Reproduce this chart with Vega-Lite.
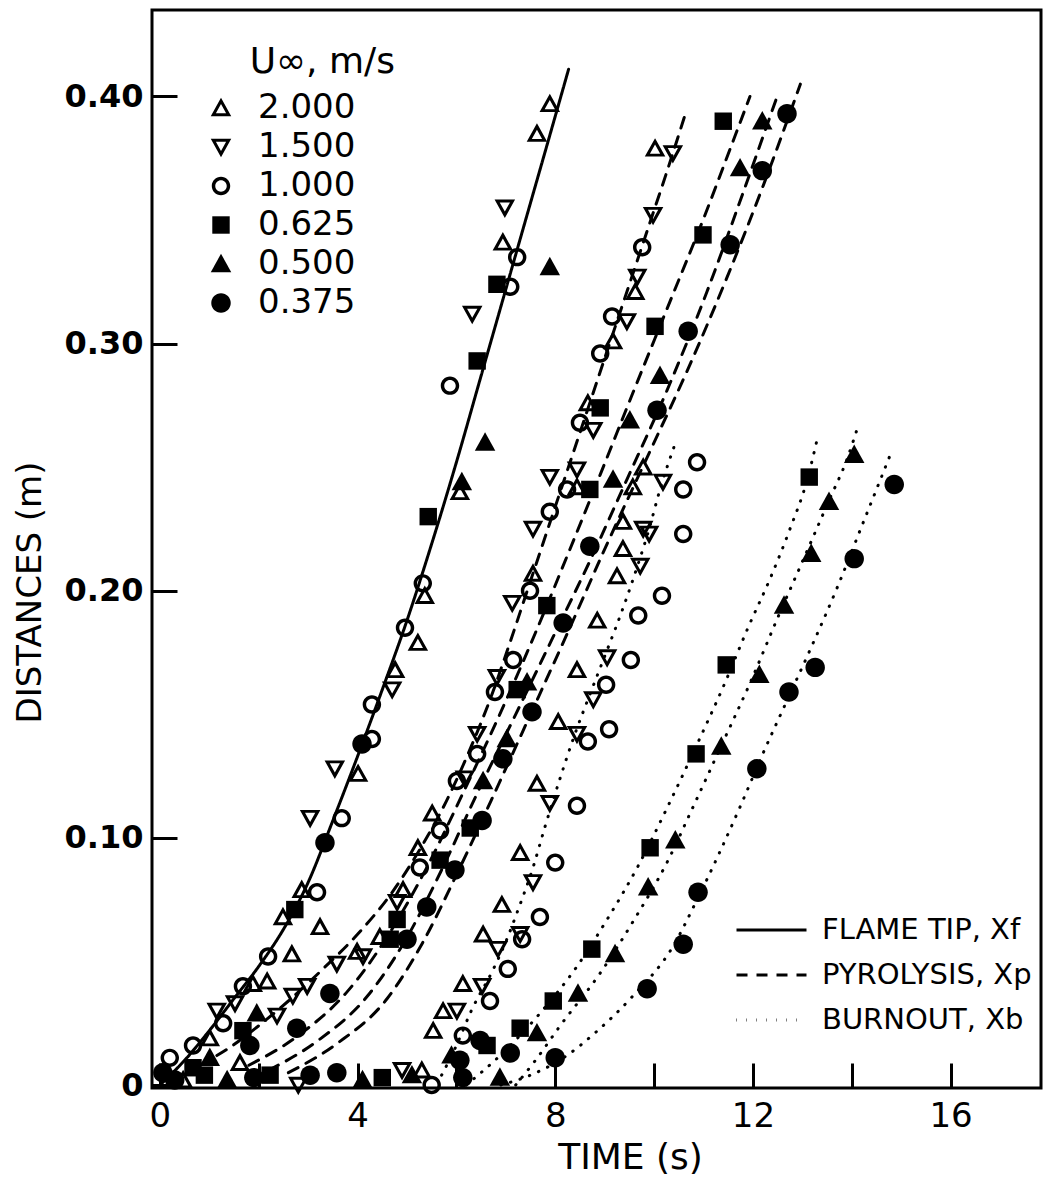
{
"$schema": "https://vega.github.io/schema/vega-lite/v6.json",
"width": 889, "height": 1078,
"autosize": {"type": "none"},
"padding": {"left": 152, "top": 10, "right": 3, "bottom": 97},
"background": "white",
"config": {
  "view": {"stroke": "black", "strokeWidth": 3},
  "font": "DejaVu Sans",
  "axis": {"grid": false, "domain": false, "tickColor": "black", "tickWidth": 3, "tickSize": -25, "labelColor": "black", "titleColor": "black"}
},
"datasets": {
"curves": [
{"curve":"S","kind":"FLAME TIP, Xf","t":0.0,"d":0.0},{"curve":"S","kind":"FLAME TIP, Xf","t":0.5,"d":0.010},{"curve":"S","kind":"FLAME TIP, Xf","t":1.0,"d":0.022},{"curve":"S","kind":"FLAME TIP, Xf","t":1.5,"d":0.035},{"curve":"S","kind":"FLAME TIP, Xf","t":2.0,"d":0.048},{"curve":"S","kind":"FLAME TIP, Xf","t":2.5,"d":0.063},{"curve":"S","kind":"FLAME TIP, Xf","t":3.0,"d":0.082},{"curve":"S","kind":"FLAME TIP, Xf","t":3.5,"d":0.107},{"curve":"S","kind":"FLAME TIP, Xf","t":4.0,"d":0.133},{"curve":"S","kind":"FLAME TIP, Xf","t":4.5,"d":0.160},{"curve":"S","kind":"FLAME TIP, Xf","t":5.0,"d":0.188},{"curve":"S","kind":"FLAME TIP, Xf","t":5.5,"d":0.219},{"curve":"S","kind":"FLAME TIP, Xf","t":6.0,"d":0.252},{"curve":"S","kind":"FLAME TIP, Xf","t":6.5,"d":0.287},{"curve":"S","kind":"FLAME TIP, Xf","t":7.0,"d":0.322},{"curve":"S","kind":"FLAME TIP, Xf","t":7.5,"d":0.357},{"curve":"S","kind":"FLAME TIP, Xf","t":8.0,"d":0.392},{"curve":"S","kind":"FLAME TIP, Xf","t":8.27,"d":0.411},
{"curve":"A","kind":"PYROLYSIS, Xp","t":0.8,"d":0.008},{"curve":"A","kind":"PYROLYSIS, Xp","t":1.4,"d":0.015},{"curve":"A","kind":"PYROLYSIS, Xp","t":2.0,"d":0.024},{"curve":"A","kind":"PYROLYSIS, Xp","t":2.6,"d":0.034},{"curve":"A","kind":"PYROLYSIS, Xp","t":3.3,"d":0.047},{"curve":"A","kind":"PYROLYSIS, Xp","t":4.0,"d":0.061},{"curve":"A","kind":"PYROLYSIS, Xp","t":4.7,"d":0.078},{"curve":"A","kind":"PYROLYSIS, Xp","t":5.25,"d":0.095},{"curve":"A","kind":"PYROLYSIS, Xp","t":5.8,"d":0.115},{"curve":"A","kind":"PYROLYSIS, Xp","t":6.3,"d":0.137},{"curve":"A","kind":"PYROLYSIS, Xp","t":6.7,"d":0.157},{"curve":"A","kind":"PYROLYSIS, Xp","t":7.1,"d":0.180},{"curve":"A","kind":"PYROLYSIS, Xp","t":7.5,"d":0.204},{"curve":"A","kind":"PYROLYSIS, Xp","t":7.9,"d":0.228},{"curve":"A","kind":"PYROLYSIS, Xp","t":8.3,"d":0.252},{"curve":"A","kind":"PYROLYSIS, Xp","t":8.7,"d":0.276},{"curve":"A","kind":"PYROLYSIS, Xp","t":9.1,"d":0.300},{"curve":"A","kind":"PYROLYSIS, Xp","t":9.5,"d":0.324},{"curve":"A","kind":"PYROLYSIS, Xp","t":9.9,"d":0.348},{"curve":"A","kind":"PYROLYSIS, Xp","t":10.25,"d":0.369},{"curve":"A","kind":"PYROLYSIS, Xp","t":10.65,"d":0.394},
{"curve":"B","kind":"PYROLYSIS, Xp","t":1.8,"d":0.008},{"curve":"B","kind":"PYROLYSIS, Xp","t":2.8,"d":0.020},{"curve":"B","kind":"PYROLYSIS, Xp","t":3.8,"d":0.038},{"curve":"B","kind":"PYROLYSIS, Xp","t":4.6,"d":0.060},{"curve":"B","kind":"PYROLYSIS, Xp","t":5.4,"d":0.088},{"curve":"B","kind":"PYROLYSIS, Xp","t":6.13,"d":0.118},{"curve":"B","kind":"PYROLYSIS, Xp","t":6.9,"d":0.151},{"curve":"B","kind":"PYROLYSIS, Xp","t":7.6,"d":0.183},{"curve":"B","kind":"PYROLYSIS, Xp","t":8.24,"d":0.214},{"curve":"B","kind":"PYROLYSIS, Xp","t":8.91,"d":0.247},{"curve":"B","kind":"PYROLYSIS, Xp","t":9.57,"d":0.280},{"curve":"B","kind":"PYROLYSIS, Xp","t":10.26,"d":0.314},{"curve":"B","kind":"PYROLYSIS, Xp","t":10.99,"d":0.350},{"curve":"B","kind":"PYROLYSIS, Xp","t":11.6,"d":0.382},{"curve":"B","kind":"PYROLYSIS, Xp","t":11.94,"d":0.400},
{"curve":"C","kind":"PYROLYSIS, Xp","t":2.2,"d":0.006},{"curve":"C","kind":"PYROLYSIS, Xp","t":3.2,"d":0.018},{"curve":"C","kind":"PYROLYSIS, Xp","t":4.2,"d":0.036},{"curve":"C","kind":"PYROLYSIS, Xp","t":4.95,"d":0.058},{"curve":"C","kind":"PYROLYSIS, Xp","t":5.7,"d":0.087},{"curve":"C","kind":"PYROLYSIS, Xp","t":6.42,"d":0.118},{"curve":"C","kind":"PYROLYSIS, Xp","t":7.2,"d":0.150},{"curve":"C","kind":"PYROLYSIS, Xp","t":7.95,"d":0.181},{"curve":"C","kind":"PYROLYSIS, Xp","t":8.7,"d":0.212},{"curve":"C","kind":"PYROLYSIS, Xp","t":9.45,"d":0.245},{"curve":"C","kind":"PYROLYSIS, Xp","t":10.26,"d":0.281},{"curve":"C","kind":"PYROLYSIS, Xp","t":11.07,"d":0.321},{"curve":"C","kind":"PYROLYSIS, Xp","t":11.8,"d":0.361},{"curve":"C","kind":"PYROLYSIS, Xp","t":12.49,"d":0.400},
{"curve":"D","kind":"PYROLYSIS, Xp","t":2.6,"d":0.005},{"curve":"D","kind":"PYROLYSIS, Xp","t":3.6,"d":0.017},{"curve":"D","kind":"PYROLYSIS, Xp","t":4.6,"d":0.035},{"curve":"D","kind":"PYROLYSIS, Xp","t":5.3,"d":0.057},{"curve":"D","kind":"PYROLYSIS, Xp","t":6.0,"d":0.085},{"curve":"D","kind":"PYROLYSIS, Xp","t":6.7,"d":0.115},{"curve":"D","kind":"PYROLYSIS, Xp","t":7.5,"d":0.150},{"curve":"D","kind":"PYROLYSIS, Xp","t":8.25,"d":0.183},{"curve":"D","kind":"PYROLYSIS, Xp","t":9.05,"d":0.219},{"curve":"D","kind":"PYROLYSIS, Xp","t":9.86,"d":0.254},{"curve":"D","kind":"PYROLYSIS, Xp","t":10.67,"d":0.289},{"curve":"D","kind":"PYROLYSIS, Xp","t":11.48,"d":0.327},{"curve":"D","kind":"PYROLYSIS, Xp","t":12.21,"d":0.364},{"curve":"D","kind":"PYROLYSIS, Xp","t":12.96,"d":0.405},
{"curve":"E","kind":"BURNOUT, Xb","t":5.7,"d":0.004},{"curve":"E","kind":"BURNOUT, Xb","t":6.0,"d":0.016},{"curve":"E","kind":"BURNOUT, Xb","t":6.3,"d":0.030},{"curve":"E","kind":"BURNOUT, Xb","t":6.75,"d":0.047},{"curve":"E","kind":"BURNOUT, Xb","t":7.0,"d":0.058},{"curve":"E","kind":"BURNOUT, Xb","t":7.25,"d":0.071},{"curve":"E","kind":"BURNOUT, Xb","t":7.55,"d":0.088},{"curve":"E","kind":"BURNOUT, Xb","t":7.8,"d":0.105},{"curve":"E","kind":"BURNOUT, Xb","t":8.08,"d":0.123},{"curve":"E","kind":"BURNOUT, Xb","t":8.38,"d":0.141},{"curve":"E","kind":"BURNOUT, Xb","t":8.7,"d":0.158},{"curve":"E","kind":"BURNOUT, Xb","t":9.05,"d":0.176},{"curve":"E","kind":"BURNOUT, Xb","t":9.39,"d":0.194},{"curve":"E","kind":"BURNOUT, Xb","t":9.68,"d":0.211},{"curve":"E","kind":"BURNOUT, Xb","t":9.9,"d":0.225},{"curve":"E","kind":"BURNOUT, Xb","t":10.12,"d":0.241},{"curve":"E","kind":"BURNOUT, Xb","t":10.4,"d":0.258},
{"curve":"F","kind":"BURNOUT, Xb","t":6.2,"d":0.0},{"curve":"F","kind":"BURNOUT, Xb","t":6.94,"d":0.013},{"curve":"F","kind":"BURNOUT, Xb","t":7.69,"d":0.029},{"curve":"F","kind":"BURNOUT, Xb","t":8.44,"d":0.048},{"curve":"F","kind":"BURNOUT, Xb","t":9.05,"d":0.067},{"curve":"F","kind":"BURNOUT, Xb","t":9.66,"d":0.088},{"curve":"F","kind":"BURNOUT, Xb","t":10.26,"d":0.112},{"curve":"F","kind":"BURNOUT, Xb","t":10.85,"d":0.137},{"curve":"F","kind":"BURNOUT, Xb","t":11.44,"d":0.163},{"curve":"F","kind":"BURNOUT, Xb","t":11.9,"d":0.185},{"curve":"F","kind":"BURNOUT, Xb","t":12.35,"d":0.205},{"curve":"F","kind":"BURNOUT, Xb","t":12.75,"d":0.225},{"curve":"F","kind":"BURNOUT, Xb","t":13.1,"d":0.245},{"curve":"F","kind":"BURNOUT, Xb","t":13.32,"d":0.263},
{"curve":"G","kind":"BURNOUT, Xb","t":7.2,"d":0.0},{"curve":"G","kind":"BURNOUT, Xb","t":7.6,"d":0.010},{"curve":"G","kind":"BURNOUT, Xb","t":8.1,"d":0.024},{"curve":"G","kind":"BURNOUT, Xb","t":8.9,"d":0.045},{"curve":"G","kind":"BURNOUT, Xb","t":9.57,"d":0.066},{"curve":"G","kind":"BURNOUT, Xb","t":10.26,"d":0.090},{"curve":"G","kind":"BURNOUT, Xb","t":10.8,"d":0.113},{"curve":"G","kind":"BURNOUT, Xb","t":11.4,"d":0.139},{"curve":"G","kind":"BURNOUT, Xb","t":11.95,"d":0.163},{"curve":"G","kind":"BURNOUT, Xb","t":12.5,"d":0.189},{"curve":"G","kind":"BURNOUT, Xb","t":13.05,"d":0.214},{"curve":"G","kind":"BURNOUT, Xb","t":13.55,"d":0.237},{"curve":"G","kind":"BURNOUT, Xb","t":13.9,"d":0.253},{"curve":"G","kind":"BURNOUT, Xb","t":14.15,"d":0.268},
{"curve":"H","kind":"BURNOUT, Xb","t":6.9,"d":0.0},{"curve":"H","kind":"BURNOUT, Xb","t":7.5,"d":0.004},{"curve":"H","kind":"BURNOUT, Xb","t":8.24,"d":0.012},{"curve":"H","kind":"BURNOUT, Xb","t":8.8,"d":0.021},{"curve":"H","kind":"BURNOUT, Xb","t":9.57,"d":0.036},{"curve":"H","kind":"BURNOUT, Xb","t":10.38,"d":0.056},{"curve":"H","kind":"BURNOUT, Xb","t":10.87,"d":0.075},{"curve":"H","kind":"BURNOUT, Xb","t":11.3,"d":0.093},{"curve":"H","kind":"BURNOUT, Xb","t":11.75,"d":0.113},{"curve":"H","kind":"BURNOUT, Xb","t":12.2,"d":0.134},{"curve":"H","kind":"BURNOUT, Xb","t":12.7,"d":0.156},{"curve":"H","kind":"BURNOUT, Xb","t":13.2,"d":0.178},{"curve":"H","kind":"BURNOUT, Xb","t":13.7,"d":0.201},{"curve":"H","kind":"BURNOUT, Xb","t":14.2,"d":0.226},{"curve":"H","kind":"BURNOUT, Xb","t":14.8,"d":0.256}
],
"points": [
{"U":"2.000","t":7.89,"d":0.397},{"U":"2.000","t":7.63,"d":0.385},{"U":"2.000","t":6.94,"d":0.341},{"U":"2.000","t":6.07,"d":0.240},{"U":"2.000","t":5.36,"d":0.198},{"U":"2.000","t":5.22,"d":0.179},{"U":"2.000","t":4.76,"d":0.168},{"U":"2.000","t":4.01,"d":0.126},{"U":"2.000","t":2.87,"d":0.079},{"U":"2.000","t":2.49,"d":0.068},{"U":"2.000","t":3.24,"d":0.064},{"U":"2.000","t":2.67,"d":0.053},{"U":"2.000","t":1.88,"d":0.041},{"U":"2.000","t":2.17,"d":0.042},{"U":"2.000","t":1.01,"d":0.019},{"U":"2.000","t":0.47,"d":0.002},
{"U":"2.000","t":10.02,"d":0.379},{"U":"2.000","t":9.62,"d":0.321},{"U":"2.000","t":9.17,"d":0.301},{"U":"2.000","t":8.66,"d":0.276},{"U":"2.000","t":8.44,"d":0.242},{"U":"2.000","t":7.55,"d":0.207},{"U":"2.000","t":5.51,"d":0.110},{"U":"2.000","t":5.22,"d":0.096},{"U":"2.000","t":4.92,"d":0.079},{"U":"2.000","t":4.45,"d":0.060},{"U":"2.000","t":3.99,"d":0.054},{"U":"2.000","t":1.62,"d":0.009},
{"U":"2.000","t":9.78,"d":0.250},{"U":"2.000","t":9.57,"d":0.242},{"U":"2.000","t":9.37,"d":0.228},{"U":"2.000","t":9.37,"d":0.217},{"U":"2.000","t":9.25,"d":0.206},{"U":"2.000","t":8.85,"d":0.188},{"U":"2.000","t":8.44,"d":0.168},{"U":"2.000","t":8.06,"d":0.147},{"U":"2.000","t":7.63,"d":0.122},{"U":"2.000","t":7.29,"d":0.094},{"U":"2.000","t":6.92,"d":0.073},{"U":"2.000","t":6.54,"d":0.061},{"U":"2.000","t":6.13,"d":0.041},{"U":"2.000","t":5.73,"d":0.030},{"U":"2.000","t":5.53,"d":0.022},{"U":"2.000","t":5.3,"d":0.006},
{"U":"1.500","t":6.98,"d":0.355},{"U":"1.500","t":6.32,"d":0.312},{"U":"1.500","t":4.70,"d":0.160},{"U":"1.500","t":3.54,"d":0.128},{"U":"1.500","t":3.04,"d":0.108},{"U":"1.500","t":1.52,"d":0.033},
{"U":"1.500","t":10.38,"d":0.377},{"U":"1.500","t":9.98,"d":0.352},{"U":"1.500","t":9.66,"d":0.327},{"U":"1.500","t":9.45,"d":0.309},{"U":"1.500","t":8.77,"d":0.265},{"U":"1.500","t":7.89,"d":0.246},{"U":"1.500","t":8.44,"d":0.249},{"U":"1.500","t":7.55,"d":0.225},{"U":"1.500","t":7.13,"d":0.195},{"U":"1.500","t":6.82,"d":0.165},{"U":"1.500","t":6.42,"d":0.142},{"U":"1.500","t":6.17,"d":0.124},{"U":"1.500","t":4.80,"d":0.074},{"U":"1.500","t":4.11,"d":0.052},{"U":"1.500","t":3.58,"d":0.049},{"U":"1.500","t":2.98,"d":0.040},{"U":"1.500","t":2.69,"d":0.036},{"U":"1.500","t":2.37,"d":0.028},{"U":"1.500","t":1.15,"d":0.030},{"U":"1.500","t":2.8,"d":0.0},{"U":"1.500","t":4.9,"d":0.006},
{"U":"1.500","t":10.18,"d":0.244},{"U":"1.500","t":9.78,"d":0.225},{"U":"1.500","t":9.72,"d":0.210},{"U":"1.500","t":9.9,"d":0.223},{"U":"1.500","t":9.05,"d":0.173},{"U":"1.500","t":8.77,"d":0.156},{"U":"1.500","t":8.44,"d":0.142},{"U":"1.500","t":7.89,"d":0.114},{"U":"1.500","t":7.55,"d":0.082},{"U":"1.500","t":6.84,"d":0.055},{"U":"1.500","t":7.29,"d":0.061},{"U":"1.500","t":6.52,"d":0.040},{"U":"1.500","t":6.01,"d":0.030},
{"U":"1.000","t":7.23,"d":0.335},{"U":"1.000","t":7.09,"d":0.323},{"U":"1.000","t":5.87,"d":0.283},{"U":"1.000","t":5.32,"d":0.203},{"U":"1.000","t":4.96,"d":0.185},{"U":"1.000","t":4.29,"d":0.154},{"U":"1.000","t":4.29,"d":0.140},{"U":"1.000","t":3.68,"d":0.108},{"U":"1.000","t":3.18,"d":0.078},{"U":"1.000","t":2.19,"d":0.052},{"U":"1.000","t":1.68,"d":0.040},{"U":"1.000","t":1.28,"d":0.025},{"U":"1.000","t":0.67,"d":0.016},{"U":"1.000","t":0.20,"d":0.011},
{"U":"1.000","t":9.76,"d":0.339},{"U":"1.000","t":9.15,"d":0.311},{"U":"1.000","t":8.91,"d":0.296},{"U":"1.000","t":8.50,"d":0.268},{"U":"1.000","t":8.24,"d":0.241},{"U":"1.000","t":7.89,"d":0.232},{"U":"1.000","t":7.49,"d":0.200},{"U":"1.000","t":7.15,"d":0.172},{"U":"1.000","t":6.78,"d":0.159},{"U":"1.000","t":6.42,"d":0.134},{"U":"1.000","t":6.01,"d":0.123},{"U":"1.000","t":5.67,"d":0.103},{"U":"1.000","t":5.26,"d":0.088},{"U":"1.000","t":5.5,"d":0.0},
{"U":"1.000","t":10.87,"d":0.252},{"U":"1.000","t":10.59,"d":0.241},{"U":"1.000","t":10.59,"d":0.223},{"U":"1.000","t":10.16,"d":0.198},{"U":"1.000","t":9.68,"d":0.190},{"U":"1.000","t":9.53,"d":0.172},{"U":"1.000","t":9.03,"d":0.162},{"U":"1.000","t":9.09,"d":0.144},{"U":"1.000","t":8.66,"d":0.139},{"U":"1.000","t":8.44,"d":0.113},{"U":"1.000","t":8.0,"d":0.090},{"U":"1.000","t":7.69,"d":0.068},{"U":"1.000","t":7.33,"d":0.059},{"U":"1.000","t":7.04,"d":0.047},{"U":"1.000","t":6.68,"d":0.034},{"U":"1.000","t":6.13,"d":0.020},
{"U":"0.625","t":6.82,"d":0.324},{"U":"0.625","t":6.42,"d":0.293},{"U":"0.625","t":5.43,"d":0.230},{"U":"0.625","t":2.73,"d":0.071},
{"U":"0.625","t":11.40,"d":0.390},{"U":"0.625","t":10.99,"d":0.344},{"U":"0.625","t":10.02,"d":0.307},{"U":"0.625","t":8.91,"d":0.274},{"U":"0.625","t":8.70,"d":0.241},{"U":"0.625","t":7.83,"d":0.194},{"U":"0.625","t":7.23,"d":0.160},{"U":"0.625","t":6.28,"d":0.104},{"U":"0.625","t":5.67,"d":0.091},{"U":"0.625","t":4.80,"d":0.067},{"U":"0.625","t":4.66,"d":0.059},{"U":"0.625","t":1.68,"d":0.022},{"U":"0.625","t":0.67,"d":0.007},{"U":"0.625","t":2.23,"d":0.004},{"U":"0.625","t":0.9,"d":0.004},{"U":"0.625","t":4.5,"d":0.003},
{"U":"0.625","t":13.14,"d":0.246},{"U":"0.625","t":11.46,"d":0.170},{"U":"0.625","t":10.85,"d":0.134},{"U":"0.625","t":9.92,"d":0.096},{"U":"0.625","t":8.74,"d":0.055},{"U":"0.625","t":7.96,"d":0.034},{"U":"0.625","t":7.29,"d":0.023},{"U":"0.625","t":6.62,"d":0.016},
{"U":"0.500","t":7.89,"d":0.331},{"U":"0.500","t":6.58,"d":0.260},{"U":"0.500","t":6.11,"d":0.244},
{"U":"0.500","t":12.19,"d":0.390},{"U":"0.500","t":11.74,"d":0.371},{"U":"0.500","t":10.12,"d":0.287},{"U":"0.500","t":9.51,"d":0.269},{"U":"0.500","t":9.17,"d":0.245},{"U":"0.500","t":7.43,"d":0.163},{"U":"0.500","t":7.02,"d":0.140},{"U":"0.500","t":6.54,"d":0.123},{"U":"0.500","t":1.96,"d":0.029},{"U":"0.500","t":1.01,"d":0.011},{"U":"0.500","t":1.36,"d":0.002},{"U":"0.500","t":4.1,"d":0.002},{"U":"0.500","t":5.1,"d":0.004},{"U":"0.500","t":5.9,"d":0.012},
{"U":"0.500","t":14.05,"d":0.255},{"U":"0.500","t":13.54,"d":0.236},{"U":"0.500","t":13.18,"d":0.215},{"U":"0.500","t":12.63,"d":0.194},{"U":"0.500","t":12.13,"d":0.166},{"U":"0.500","t":11.36,"d":0.137},{"U":"0.500","t":10.43,"d":0.099},{"U":"0.500","t":9.88,"d":0.080},{"U":"0.500","t":9.21,"d":0.053},{"U":"0.500","t":8.46,"d":0.037},{"U":"0.500","t":7.63,"d":0.021},{"U":"0.500","t":6.88,"d":0.003},
{"U":"0.375","t":4.09,"d":0.138},{"U":"0.375","t":3.34,"d":0.098},
{"U":"0.375","t":12.69,"d":0.393},{"U":"0.375","t":12.19,"d":0.370},{"U":"0.375","t":11.54,"d":0.340},{"U":"0.375","t":10.69,"d":0.305},{"U":"0.375","t":10.06,"d":0.273},{"U":"0.375","t":8.70,"d":0.218},{"U":"0.375","t":8.16,"d":0.187},{"U":"0.375","t":7.53,"d":0.151},{"U":"0.375","t":6.94,"d":0.132},{"U":"0.375","t":6.52,"d":0.107},{"U":"0.375","t":5.97,"d":0.087},{"U":"0.375","t":5.40,"d":0.072},{"U":"0.375","t":5.0,"d":0.059},{"U":"0.375","t":3.44,"d":0.037},{"U":"0.375","t":2.77,"d":0.023},{"U":"0.375","t":1.82,"d":0.016},{"U":"0.375","t":0.06,"d":0.005},{"U":"0.375","t":3.04,"d":0.004},{"U":"0.375","t":3.58,"d":0.005},{"U":"0.375","t":1.9,"d":0.003},{"U":"0.375","t":0.3,"d":0.002},
{"U":"0.375","t":14.86,"d":0.243},{"U":"0.375","t":14.05,"d":0.213},{"U":"0.375","t":13.26,"d":0.169},{"U":"0.375","t":12.73,"d":0.159},{"U":"0.375","t":12.08,"d":0.128},{"U":"0.375","t":10.89,"d":0.078},{"U":"0.375","t":10.59,"d":0.057},{"U":"0.375","t":9.86,"d":0.039},{"U":"0.375","t":8.0,"d":0.011},{"U":"0.375","t":7.09,"d":0.013},{"U":"0.375","t":6.48,"d":0.018},{"U":"0.375","t":6.13,"d":0.003},{"U":"0.375","t":6.07,"d":0.010}
]
},
"layer": [
{
 "data": {"name": "curves"},
 "mark": {"type": "line", "color": "black", "strokeCap": "round", "interpolate": "monotone"},
 "encoding": {
  "x": {"field": "t", "type": "quantitative", "scale": {"domain": [-0.16, 17.83], "nice": false, "zero": false},
        "axis": {"values": [0,2,4,6,8,10,12,14,16], "labelExpr": "datum.value % 4 == 0 ? datum.label : ''", "labelFontSize": 34, "labelPadding": 36, "labelFlush": false, "title": "TIME (s)", "titleFontSize": 36, "titleFontWeight": "normal", "titleX": 478, "titleY": 52, "titleBaseline": "top"}},
  "y": {"field": "d", "type": "quantitative", "scale": {"domain": [-0.0012, 0.435], "nice": false, "zero": false},
        "axis": {"values": [0,0.1,0.2,0.3,0.4], "labelExpr": "datum.value == 0 ? '0' : format(datum.value, '.2f')", "labelFontSize": 32, "labelFontWeight": "bold", "labelPadding": 34, "labelFlush": false, "title": "DISTANCES (m)", "titleFontSize": 34, "titleFontWeight": "normal", "titleX": -122, "titleY": 582, "titleAngle": -90, "titleAlign": "center", "titleBaseline": "middle"}},
  "detail": {"field": "curve"},
  "strokeDash": {"field": "kind", "type": "nominal",
     "scale": {"domain": ["FLAME TIP, Xf", "PYROLYSIS, Xp", "BURNOUT, Xb"], "range": [[1,0],[11,9],[0.5,9.5]]},
     "legend": {"orient": "none", "legendX": 583, "legendY": 905, "title": null, "labelFontSize": 29, "labelLimit": 400, "symbolSize": 4900, "symbolStrokeColor": "black", "labelOffset": 14, "clipHeight": 30, "rowPadding": 15}},
  "strokeWidth": {"field": "kind", "type": "nominal",
     "scale": {"domain": ["FLAME TIP, Xf", "PYROLYSIS, Xp", "BURNOUT, Xb"], "range": [3, 3, 4.5]},
     "legend": {"orient": "none", "legendX": 583, "legendY": 905, "title": null, "labelFontSize": 29, "labelLimit": 400, "symbolSize": 4900, "symbolStrokeColor": "black", "labelOffset": 14, "clipHeight": 30, "rowPadding": 15}}
 }
},
{
 "data": {"name": "points"},
 "mark": {"type": "point", "filled": true, "color": "black", "strokeWidth": 0, "size": 420, "opacity": 1},
 "encoding": {
  "x": {"field": "t", "type": "quantitative"},
  "y": {"field": "d", "type": "quantitative"},
  "shape": {"field": "U", "type": "nominal",
    "scale": {"domain": ["2.000","1.500","1.000","0.625","0.500","0.375"],
      "range": [
        "M0,-1L1,0.8L-1,0.8ZM0,-0.38L-0.5,0.52L0.5,0.52Z",
        "M0,1L-1,-0.8L1,-0.8ZM0,0.38L0.5,-0.52L-0.5,-0.52Z",
        "M-0.9,0A0.9,0.9,0,1,1,0.9,0A0.9,0.9,0,1,1,-0.9,0ZM-0.56,0A0.56,0.56,0,1,0,0.56,0A0.56,0.56,0,1,0,-0.56,0Z",
        "M-0.85,-0.85L0.85,-0.85L0.85,0.85L-0.85,0.85Z",
        "M0,-1L1,0.8L-1,0.8Z",
        "M-0.95,0A0.95,0.95,0,1,1,0.95,0A0.95,0.95,0,1,1,-0.95,0Z"]},
    "legend": {"orient": "none", "legendX": 52, "legendY": 35, "title": "\u200b\u00a0\u00a0\u00a0\u00a0U∞, m/s", "titleFontSize": 36, "titleFontWeight": "normal", "titleAnchor": "start", "titlePadding": 10, "titleLimit": 400, "labelFontSize": 34, "symbolSize": 420, "symbolStrokeWidth": 0, "symbolFillColor": "black", "labelOffset": 20, "rowPadding": 5}}
 }
}
]
}
